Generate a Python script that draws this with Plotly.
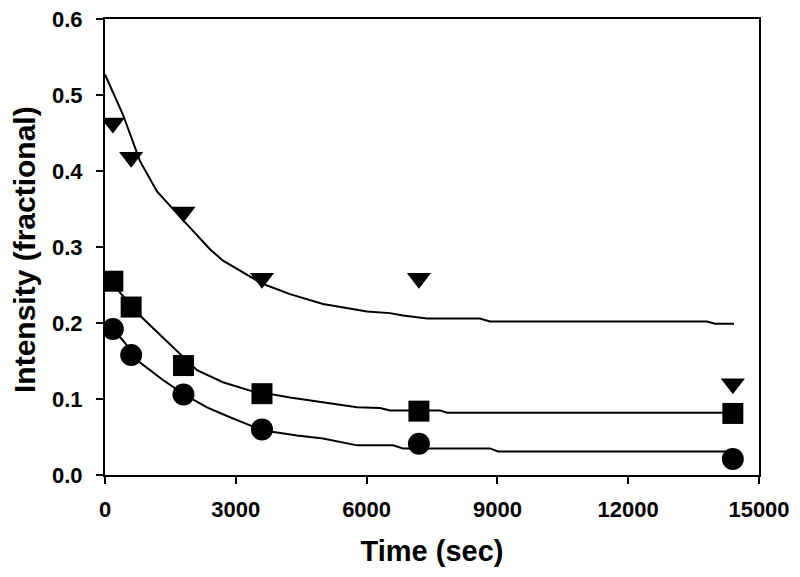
import plotly.graph_objects as go

# Measured data points
time_pts = [180, 600, 1800, 3600, 7200, 14400]
triangles = [0.463, 0.418, 0.346, 0.259, 0.259, 0.120]
squares = [0.255, 0.221, 0.144, 0.107, 0.084, 0.081]
circles = [0.192, 0.158, 0.106, 0.060, 0.041, 0.021]

# Fitted curves
top_t = [0, 180, 413, 803, 1193, 1812, 2408, 2706, 3600, 4243, 5000, 6009, 6537, 6835, 7385, 8600, 8830, 13807, 13990, 14427]
top_y = [0.527, 0.503, 0.474, 0.413, 0.373, 0.334, 0.297, 0.282, 0.252, 0.238, 0.225, 0.215, 0.213, 0.210, 0.206, 0.206, 0.202, 0.202, 0.199, 0.199]

mid_t = [180, 344, 872, 1330, 2110, 2706, 3326, 4243, 5000, 5780, 6307, 6537, 7683, 7844, 14427]
mid_y = [0.255, 0.240, 0.206, 0.181, 0.138, 0.122, 0.111, 0.102, 0.096, 0.089, 0.088, 0.085, 0.085, 0.082, 0.082]

bot_t = [180, 413, 803, 1330, 1812, 2339, 2867, 3600, 4404, 5000, 5780, 6606, 6835, 8830, 9014, 14427]
bot_y = [0.192, 0.177, 0.148, 0.125, 0.106, 0.089, 0.076, 0.059, 0.052, 0.048, 0.039, 0.039, 0.035, 0.035, 0.031, 0.031]

x_ticks = [0, 3000, 6000, 9000, 12000, 15000]
y_ticks = [0.0, 0.1, 0.2, 0.3, 0.4, 0.5, 0.6]

fig = go.Figure()
line_style = dict(color="black", width=2)
for t, y in [(top_t, top_y), (mid_t, mid_y), (bot_t, bot_y)]:
    fig.add_trace(go.Scatter(x=t, y=y, mode="lines", line=line_style, showlegend=False))

fig.add_trace(go.Scatter(x=time_pts, y=triangles, mode="markers",
                         marker=dict(symbol="triangle-down", size=21, color="black"), showlegend=False))
fig.add_trace(go.Scatter(x=time_pts, y=squares, mode="markers",
                         marker=dict(symbol="square", size=21, color="black"), showlegend=False))
fig.add_trace(go.Scatter(x=time_pts, y=circles, mode="markers",
                         marker=dict(symbol="circle", size=22, color="black"), showlegend=False))

font_family = "Liberation Sans, Arial, sans-serif"
axis_common = dict(
    showline=True, linecolor="black", linewidth=2, mirror=True,
    ticks="outside", ticklen=7, tickwidth=2, tickcolor="black",
    showgrid=False, zeroline=False, automargin=False,
    ticklabeloverflow="allow",
    tickfont=dict(family=font_family, size=22, color="black", weight="bold"),
)

fig.update_xaxes(range=[0, 15000], tickvals=x_ticks, ticktext=[str(v) for v in x_ticks],
                 ticklabelstandoff=7,
                 title=dict(text="Time (sec)", font=dict(family=font_family, size=29, color="black", weight="bold"), standoff=19),
                 **axis_common)
fig.update_yaxes(range=[0, 0.6], tickvals=y_ticks, ticktext=[f"{v:.1f}" for v in y_ticks],
                 ticklabelstandoff=9,
                 **axis_common)

# Y-axis title
fig.add_annotation(text="Intensity (fractional)", xref="paper", yref="paper", x=0, y=0.5,
                   xanchor="center", yanchor="middle", xshift=-81, yshift=-3, textangle=-90,
                   showarrow=False,
                   font=dict(family=font_family, size=30, color="black", weight="bold"))

fig.update_layout(
    width=800, height=577,
    margin=dict(l=97, r=49, t=11, b=110),
    plot_bgcolor="white", paper_bgcolor="white",
)

fig.write_html("out.html")
